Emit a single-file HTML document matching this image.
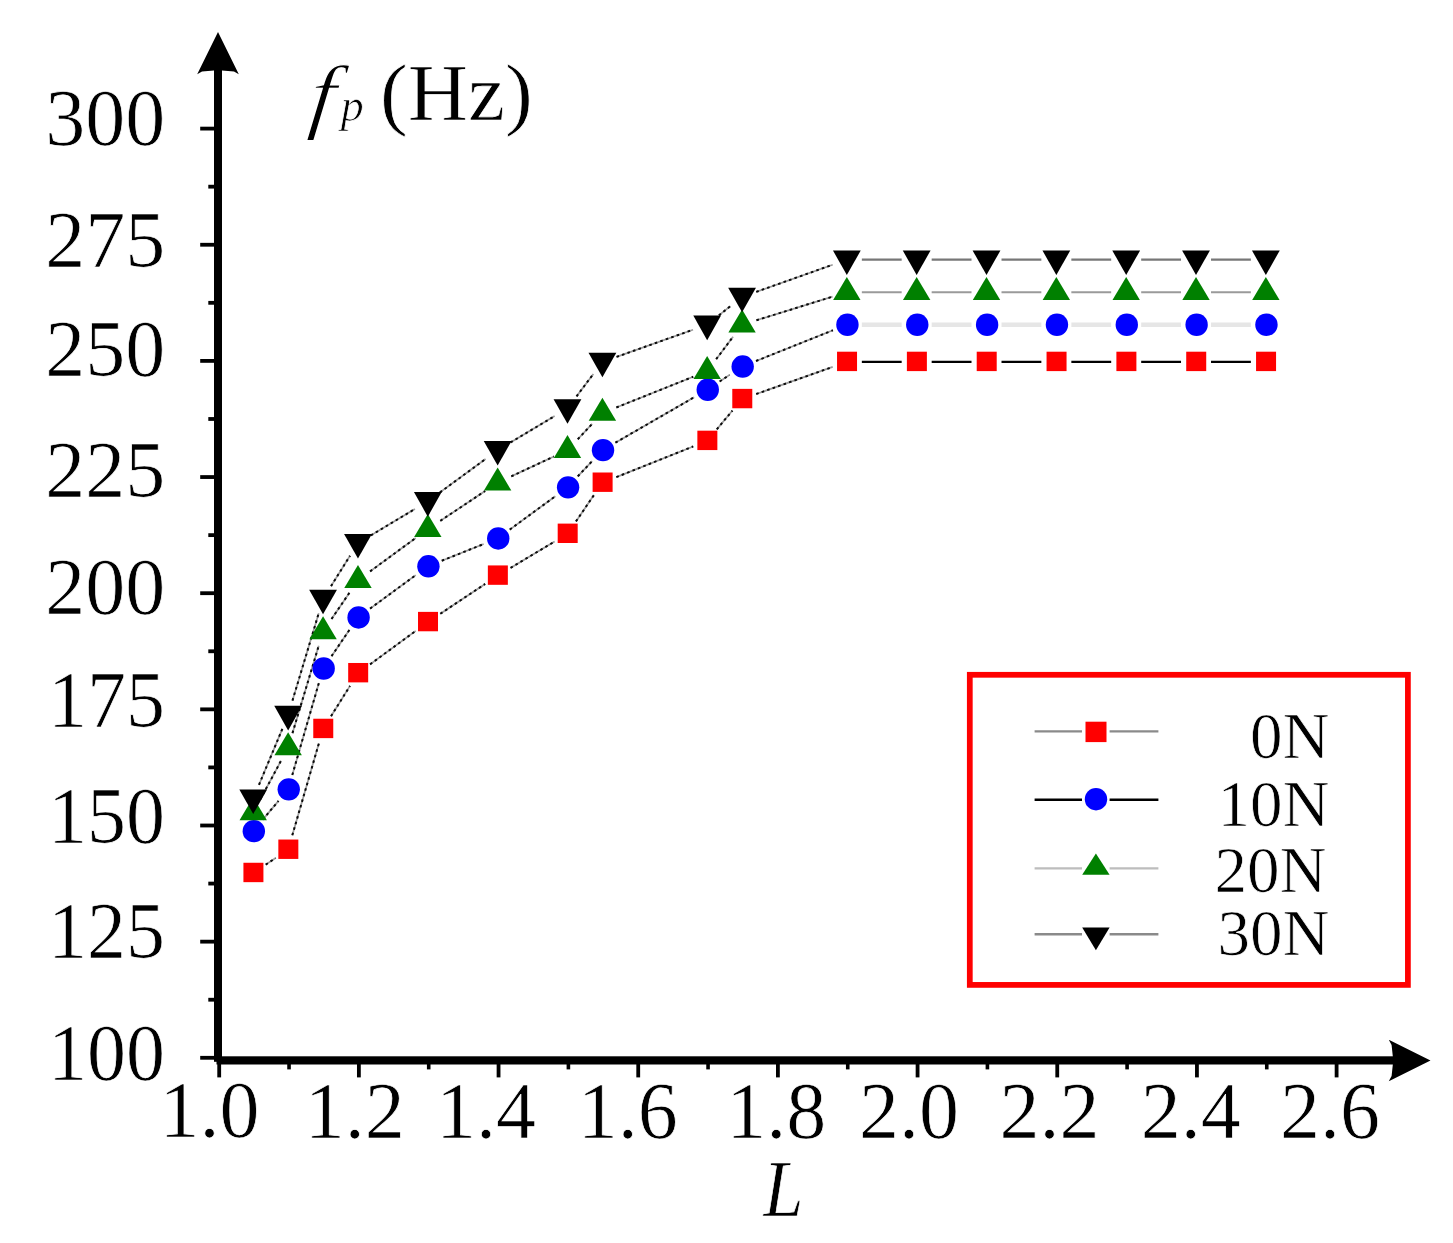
<!DOCTYPE html>
<html lang="en"><head><meta charset="utf-8"><title>fp vs L</title>
<style>html,body{margin:0;padding:0;background:#fff}body{width:1453px;height:1243px;overflow:hidden}svg{display:block}text{font-family:"Liberation Serif","DejaVu Serif",serif;fill:#000;stroke:#fff;stroke-width:0.7px}</style></head><body>
<svg width="1453" height="1243" viewBox="0 0 1453 1243">
<rect x="0" y="0" width="1453" height="1243" fill="#fff"/>
<g id="lines">
<line x1="265.71" y1="864.65" x2="275.65" y2="858.04" stroke="#9c9c9c" stroke-width="1.7"/>
<line x1="265.71" y1="864.65" x2="275.65" y2="858.04" stroke="#0a0a0a" stroke-width="2" stroke-dasharray="2.6 3.2"/>
<line x1="292.3" y1="835.32" x2="318.89" y2="743.34" stroke="#9c9c9c" stroke-width="1.7"/>
<line x1="292.3" y1="835.32" x2="318.89" y2="743.34" stroke="#0a0a0a" stroke-width="2" stroke-dasharray="2.6 3.2"/>
<line x1="331.02" y1="716.22" x2="350.01" y2="685.89" stroke="#9c9c9c" stroke-width="1.7"/>
<line x1="331.02" y1="716.22" x2="350.01" y2="685.89" stroke="#0a0a0a" stroke-width="2" stroke-dasharray="2.6 3.2"/>
<line x1="370.08" y1="664.32" x2="415.71" y2="630.93" stroke="#9c9c9c" stroke-width="1.7"/>
<line x1="370.08" y1="664.32" x2="415.71" y2="630.93" stroke="#0a0a0a" stroke-width="2" stroke-dasharray="2.6 3.2"/>
<line x1="440.3" y1="613.77" x2="485.16" y2="583.92" stroke="#9c9c9c" stroke-width="1.7"/>
<line x1="440.3" y1="613.77" x2="485.16" y2="583.92" stroke="#0a0a0a" stroke-width="2" stroke-dasharray="2.6 3.2"/>
<line x1="510.52" y1="567.91" x2="554.62" y2="541.51" stroke="#9c9c9c" stroke-width="1.7"/>
<line x1="510.52" y1="567.91" x2="554.62" y2="541.51" stroke="#0a0a0a" stroke-width="2" stroke-dasharray="2.6 3.2"/>
<line x1="575.95" y1="521.42" x2="593.94" y2="495.08" stroke="#9c9c9c" stroke-width="1.7"/>
<line x1="575.95" y1="521.42" x2="593.94" y2="495.08" stroke="#0a0a0a" stroke-width="2" stroke-dasharray="2.6 3.2"/>
<line x1="616.34" y1="477.14" x2="693.23" y2="446.44" stroke="#9c9c9c" stroke-width="1.7"/>
<line x1="616.34" y1="477.14" x2="693.23" y2="446.44" stroke="#0a0a0a" stroke-width="2" stroke-dasharray="2.6 3.2"/>
<line x1="716.78" y1="429.37" x2="732.47" y2="410.58" stroke="#9c9c9c" stroke-width="1.7"/>
<line x1="716.78" y1="429.37" x2="732.47" y2="410.58" stroke="#0a0a0a" stroke-width="2" stroke-dasharray="2.6 3.2"/>
<line x1="756.22" y1="394.05" x2="832.7" y2="366.92" stroke="#9c9c9c" stroke-width="1.7"/>
<line x1="756.22" y1="394.05" x2="832.7" y2="366.92" stroke="#0a0a0a" stroke-width="2" stroke-dasharray="2.6 3.2"/>
<line x1="861.84" y1="361.9" x2="901.67" y2="361.9" stroke="#000" stroke-width="2.4"/>
<line x1="931.67" y1="361.9" x2="971.51" y2="361.9" stroke="#000" stroke-width="2.4"/>
<line x1="1001.51" y1="361.9" x2="1041.35" y2="361.9" stroke="#000" stroke-width="2.4"/>
<line x1="1071.35" y1="361.9" x2="1111.19" y2="361.9" stroke="#000" stroke-width="2.4"/>
<line x1="1141.19" y1="361.9" x2="1181.02" y2="361.9" stroke="#000" stroke-width="2.4"/>
<line x1="1211.02" y1="361.9" x2="1250.86" y2="361.9" stroke="#000" stroke-width="2.4"/>
<line x1="262.83" y1="819.63" x2="278.52" y2="800.85" stroke="#9c9c9c" stroke-width="1.7"/>
<line x1="262.83" y1="819.63" x2="278.52" y2="800.85" stroke="#0a0a0a" stroke-width="2" stroke-dasharray="2.6 3.2"/>
<line x1="292.3" y1="774.92" x2="318.89" y2="682.95" stroke="#9c9c9c" stroke-width="1.7"/>
<line x1="292.3" y1="774.92" x2="318.89" y2="682.95" stroke="#0a0a0a" stroke-width="2" stroke-dasharray="2.6 3.2"/>
<line x1="331.52" y1="656.15" x2="349.51" y2="629.82" stroke="#9c9c9c" stroke-width="1.7"/>
<line x1="331.52" y1="656.15" x2="349.51" y2="629.82" stroke="#0a0a0a" stroke-width="2" stroke-dasharray="2.6 3.2"/>
<line x1="370.08" y1="608.57" x2="415.71" y2="575.18" stroke="#9c9c9c" stroke-width="1.7"/>
<line x1="370.08" y1="608.57" x2="415.71" y2="575.18" stroke="#0a0a0a" stroke-width="2" stroke-dasharray="2.6 3.2"/>
<line x1="441.74" y1="560.76" x2="483.72" y2="544.01" stroke="#9c9c9c" stroke-width="1.7"/>
<line x1="441.74" y1="560.76" x2="483.72" y2="544.01" stroke="#0a0a0a" stroke-width="2" stroke-dasharray="2.6 3.2"/>
<line x1="509.76" y1="529.59" x2="555.38" y2="496.2" stroke="#9c9c9c" stroke-width="1.7"/>
<line x1="509.76" y1="529.59" x2="555.38" y2="496.2" stroke="#0a0a0a" stroke-width="2" stroke-dasharray="2.6 3.2"/>
<line x1="577.76" y1="476.41" x2="592.14" y2="461.11" stroke="#9c9c9c" stroke-width="1.7"/>
<line x1="577.76" y1="476.41" x2="592.14" y2="461.11" stroke="#0a0a0a" stroke-width="2" stroke-dasharray="2.6 3.2"/>
<line x1="615.4" y1="442.68" x2="694.17" y2="397.27" stroke="#9c9c9c" stroke-width="1.7"/>
<line x1="615.4" y1="442.68" x2="694.17" y2="397.27" stroke="#0a0a0a" stroke-width="2" stroke-dasharray="2.6 3.2"/>
<line x1="719.65" y1="381.47" x2="729.59" y2="374.85" stroke="#9c9c9c" stroke-width="1.7"/>
<line x1="719.65" y1="381.47" x2="729.59" y2="374.85" stroke="#0a0a0a" stroke-width="2" stroke-dasharray="2.6 3.2"/>
<line x1="756.01" y1="360.99" x2="832.91" y2="330.29" stroke="#9c9c9c" stroke-width="1.7"/>
<line x1="756.01" y1="360.99" x2="832.91" y2="330.29" stroke="#0a0a0a" stroke-width="2" stroke-dasharray="2.6 3.2"/>
<line x1="861.84" y1="324.73" x2="901.67" y2="324.73" stroke="#e6e6e6" stroke-width="4.5"/>
<line x1="931.67" y1="324.73" x2="971.51" y2="324.73" stroke="#e6e6e6" stroke-width="4.5"/>
<line x1="1001.51" y1="324.73" x2="1041.35" y2="324.73" stroke="#e6e6e6" stroke-width="4.5"/>
<line x1="1071.35" y1="324.73" x2="1111.19" y2="324.73" stroke="#e6e6e6" stroke-width="4.5"/>
<line x1="1141.19" y1="324.73" x2="1181.02" y2="324.73" stroke="#e6e6e6" stroke-width="4.5"/>
<line x1="1211.02" y1="324.73" x2="1250.86" y2="324.73" stroke="#e6e6e6" stroke-width="4.5"/>
<line x1="260.31" y1="799.35" x2="281.04" y2="760.73" stroke="#9c9c9c" stroke-width="1.7"/>
<line x1="260.31" y1="799.35" x2="281.04" y2="760.73" stroke="#0a0a0a" stroke-width="2" stroke-dasharray="2.6 3.2"/>
<line x1="292.46" y1="733.15" x2="318.74" y2="645.73" stroke="#9c9c9c" stroke-width="1.7"/>
<line x1="292.46" y1="733.15" x2="318.74" y2="645.73" stroke="#0a0a0a" stroke-width="2" stroke-dasharray="2.6 3.2"/>
<line x1="331.52" y1="618.98" x2="349.51" y2="592.65" stroke="#9c9c9c" stroke-width="1.7"/>
<line x1="331.52" y1="618.98" x2="349.51" y2="592.65" stroke="#0a0a0a" stroke-width="2" stroke-dasharray="2.6 3.2"/>
<line x1="370.08" y1="571.4" x2="415.71" y2="538.01" stroke="#9c9c9c" stroke-width="1.7"/>
<line x1="370.08" y1="571.4" x2="415.71" y2="538.01" stroke="#0a0a0a" stroke-width="2" stroke-dasharray="2.6 3.2"/>
<line x1="440.3" y1="520.85" x2="485.16" y2="491" stroke="#9c9c9c" stroke-width="1.7"/>
<line x1="440.3" y1="520.85" x2="485.16" y2="491" stroke="#0a0a0a" stroke-width="2" stroke-dasharray="2.6 3.2"/>
<line x1="511.25" y1="476.36" x2="553.89" y2="456.51" stroke="#9c9c9c" stroke-width="1.7"/>
<line x1="511.25" y1="476.36" x2="553.89" y2="456.51" stroke="#0a0a0a" stroke-width="2" stroke-dasharray="2.6 3.2"/>
<line x1="577.76" y1="439.24" x2="592.14" y2="423.94" stroke="#9c9c9c" stroke-width="1.7"/>
<line x1="577.76" y1="439.24" x2="592.14" y2="423.94" stroke="#0a0a0a" stroke-width="2" stroke-dasharray="2.6 3.2"/>
<line x1="616.34" y1="407.45" x2="693.23" y2="376.75" stroke="#9c9c9c" stroke-width="1.7"/>
<line x1="616.34" y1="407.45" x2="693.23" y2="376.75" stroke="#0a0a0a" stroke-width="2" stroke-dasharray="2.6 3.2"/>
<line x1="716.17" y1="359.2" x2="733.07" y2="336.72" stroke="#9c9c9c" stroke-width="1.7"/>
<line x1="716.17" y1="359.2" x2="733.07" y2="336.72" stroke="#0a0a0a" stroke-width="2" stroke-dasharray="2.6 3.2"/>
<line x1="756.41" y1="320.28" x2="832.51" y2="296.66" stroke="#9c9c9c" stroke-width="1.7"/>
<line x1="756.41" y1="320.28" x2="832.51" y2="296.66" stroke="#0a0a0a" stroke-width="2" stroke-dasharray="2.6 3.2"/>
<line x1="861.84" y1="292.21" x2="901.67" y2="292.21" stroke="#9a9a9a" stroke-width="2"/>
<line x1="931.67" y1="292.21" x2="971.51" y2="292.21" stroke="#9a9a9a" stroke-width="2"/>
<line x1="1001.51" y1="292.21" x2="1041.35" y2="292.21" stroke="#9a9a9a" stroke-width="2"/>
<line x1="1071.35" y1="292.21" x2="1111.19" y2="292.21" stroke="#9a9a9a" stroke-width="2"/>
<line x1="1141.19" y1="292.21" x2="1181.02" y2="292.21" stroke="#9a9a9a" stroke-width="2"/>
<line x1="1211.02" y1="292.21" x2="1250.86" y2="292.21" stroke="#9a9a9a" stroke-width="2"/>
<line x1="259" y1="784.78" x2="282.36" y2="728.84" stroke="#9c9c9c" stroke-width="1.7"/>
<line x1="259" y1="784.78" x2="282.36" y2="728.84" stroke="#0a0a0a" stroke-width="2" stroke-dasharray="2.6 3.2"/>
<line x1="292.46" y1="700.63" x2="318.74" y2="613.21" stroke="#9c9c9c" stroke-width="1.7"/>
<line x1="292.46" y1="700.63" x2="318.74" y2="613.21" stroke="#0a0a0a" stroke-width="2" stroke-dasharray="2.6 3.2"/>
<line x1="331.02" y1="586.13" x2="350.01" y2="555.81" stroke="#9c9c9c" stroke-width="1.7"/>
<line x1="331.02" y1="586.13" x2="350.01" y2="555.81" stroke="#0a0a0a" stroke-width="2" stroke-dasharray="2.6 3.2"/>
<line x1="370.84" y1="535.39" x2="414.94" y2="508.99" stroke="#9c9c9c" stroke-width="1.7"/>
<line x1="370.84" y1="535.39" x2="414.94" y2="508.99" stroke="#0a0a0a" stroke-width="2" stroke-dasharray="2.6 3.2"/>
<line x1="439.92" y1="492.42" x2="485.54" y2="459.03" stroke="#9c9c9c" stroke-width="1.7"/>
<line x1="439.92" y1="492.42" x2="485.54" y2="459.03" stroke="#0a0a0a" stroke-width="2" stroke-dasharray="2.6 3.2"/>
<line x1="510.52" y1="442.47" x2="554.62" y2="416.07" stroke="#9c9c9c" stroke-width="1.7"/>
<line x1="510.52" y1="442.47" x2="554.62" y2="416.07" stroke="#0a0a0a" stroke-width="2" stroke-dasharray="2.6 3.2"/>
<line x1="576.5" y1="396.37" x2="593.39" y2="373.89" stroke="#9c9c9c" stroke-width="1.7"/>
<line x1="576.5" y1="396.37" x2="593.39" y2="373.89" stroke="#0a0a0a" stroke-width="2" stroke-dasharray="2.6 3.2"/>
<line x1="616.54" y1="356.88" x2="693.03" y2="329.75" stroke="#9c9c9c" stroke-width="1.7"/>
<line x1="616.54" y1="356.88" x2="693.03" y2="329.75" stroke="#0a0a0a" stroke-width="2" stroke-dasharray="2.6 3.2"/>
<line x1="718.89" y1="315.37" x2="730.36" y2="306.21" stroke="#9c9c9c" stroke-width="1.7"/>
<line x1="718.89" y1="315.37" x2="730.36" y2="306.21" stroke="#0a0a0a" stroke-width="2" stroke-dasharray="2.6 3.2"/>
<line x1="756.22" y1="291.84" x2="832.7" y2="264.7" stroke="#9c9c9c" stroke-width="1.7"/>
<line x1="756.22" y1="291.84" x2="832.7" y2="264.7" stroke="#0a0a0a" stroke-width="2" stroke-dasharray="2.6 3.2"/>
<line x1="861.84" y1="259.69" x2="901.67" y2="259.69" stroke="#777" stroke-width="2.2"/>
<line x1="931.67" y1="259.69" x2="971.51" y2="259.69" stroke="#777" stroke-width="2.2"/>
<line x1="1001.51" y1="259.69" x2="1041.35" y2="259.69" stroke="#777" stroke-width="2.2"/>
<line x1="1071.35" y1="259.69" x2="1111.19" y2="259.69" stroke="#777" stroke-width="2.2"/>
<line x1="1141.19" y1="259.69" x2="1181.02" y2="259.69" stroke="#777" stroke-width="2.2"/>
<line x1="1211.02" y1="259.69" x2="1250.86" y2="259.69" stroke="#777" stroke-width="2.2"/>
</g>
<g id="markers">
<rect x="243.42" y="862.76" width="20" height="19.4" fill="#ff0000"/>
<rect x="278.34" y="839.53" width="20" height="19.4" fill="#ff0000"/>
<rect x="313.26" y="718.73" width="20" height="19.4" fill="#ff0000"/>
<rect x="348.18" y="662.98" width="20" height="19.4" fill="#ff0000"/>
<rect x="418.01" y="611.88" width="20" height="19.4" fill="#ff0000"/>
<rect x="487.85" y="565.42" width="20" height="19.4" fill="#ff0000"/>
<rect x="557.69" y="523.6" width="20" height="19.4" fill="#ff0000"/>
<rect x="592.61" y="472.5" width="20" height="19.4" fill="#ff0000"/>
<rect x="697.36" y="430.68" width="20" height="19.4" fill="#ff0000"/>
<rect x="732.28" y="388.87" width="20" height="19.4" fill="#ff0000"/>
<rect x="837.04" y="351.7" width="20" height="19.4" fill="#ff0000"/>
<rect x="906.88" y="351.7" width="20" height="19.4" fill="#ff0000"/>
<rect x="976.71" y="351.7" width="20" height="19.4" fill="#ff0000"/>
<rect x="1046.55" y="351.7" width="20" height="19.4" fill="#ff0000"/>
<rect x="1116.39" y="351.7" width="20" height="19.4" fill="#ff0000"/>
<rect x="1186.22" y="351.7" width="20" height="19.4" fill="#ff0000"/>
<rect x="1256.06" y="351.7" width="20" height="19.4" fill="#ff0000"/>
<circle cx="253.82" cy="831.15" r="11.2" fill="#0000ff"/>
<circle cx="288.74" cy="789.33" r="11.2" fill="#0000ff"/>
<circle cx="323.66" cy="668.54" r="11.2" fill="#0000ff"/>
<circle cx="358.58" cy="617.43" r="11.2" fill="#0000ff"/>
<circle cx="428.41" cy="566.32" r="11.2" fill="#0000ff"/>
<circle cx="498.25" cy="538.45" r="11.2" fill="#0000ff"/>
<circle cx="568.09" cy="487.34" r="11.2" fill="#0000ff"/>
<circle cx="603.01" cy="450.17" r="11.2" fill="#0000ff"/>
<circle cx="707.76" cy="389.78" r="11.2" fill="#0000ff"/>
<circle cx="742.68" cy="366.55" r="11.2" fill="#0000ff"/>
<circle cx="847.44" cy="324.73" r="11.2" fill="#0000ff"/>
<circle cx="917.27" cy="324.73" r="11.2" fill="#0000ff"/>
<circle cx="987.11" cy="324.73" r="11.2" fill="#0000ff"/>
<circle cx="1056.95" cy="324.73" r="11.2" fill="#0000ff"/>
<circle cx="1126.79" cy="324.73" r="11.2" fill="#0000ff"/>
<circle cx="1196.62" cy="324.73" r="11.2" fill="#0000ff"/>
<circle cx="1266.46" cy="324.73" r="11.2" fill="#0000ff"/>
<polygon points="253.22,797.36 266.92,820.36 239.52,820.36" fill="#008000"/>
<polygon points="288.14,732.32 301.84,755.32 274.44,755.32" fill="#008000"/>
<polygon points="323.06,616.17 336.76,639.17 309.36,639.17" fill="#008000"/>
<polygon points="357.98,565.06 371.68,588.06 344.28,588.06" fill="#008000"/>
<polygon points="427.81,513.96 441.51,536.96 414.11,536.96" fill="#008000"/>
<polygon points="497.65,467.5 511.35,490.5 483.95,490.5" fill="#008000"/>
<polygon points="567.49,434.97 581.19,457.97 553.79,457.97" fill="#008000"/>
<polygon points="602.41,397.81 616.11,420.81 588.71,420.81" fill="#008000"/>
<polygon points="707.16,355.99 720.86,378.99 693.46,378.99" fill="#008000"/>
<polygon points="742.08,309.53 755.78,332.53 728.38,332.53" fill="#008000"/>
<polygon points="846.84,277.01 860.54,300.01 833.14,300.01" fill="#008000"/>
<polygon points="916.67,277.01 930.38,300.01 902.97,300.01" fill="#008000"/>
<polygon points="986.51,277.01 1000.21,300.01 972.81,300.01" fill="#008000"/>
<polygon points="1056.35,277.01 1070.05,300.01 1042.65,300.01" fill="#008000"/>
<polygon points="1126.19,277.01 1139.89,300.01 1112.49,300.01" fill="#008000"/>
<polygon points="1196.02,277.01 1209.72,300.01 1182.32,300.01" fill="#008000"/>
<polygon points="1265.86,277.01 1279.56,300.01 1252.16,300.01" fill="#008000"/>
<polygon points="253.22,814.02 267.12,789.42 239.32,789.42" fill="#000"/>
<polygon points="288.14,730.4 302.04,705.8 274.24,705.8" fill="#000"/>
<polygon points="323.06,614.25 336.96,589.65 309.16,589.65" fill="#000"/>
<polygon points="357.98,558.49 371.88,533.89 344.08,533.89" fill="#000"/>
<polygon points="427.81,516.68 441.71,492.08 413.91,492.08" fill="#000"/>
<polygon points="497.65,465.57 511.55,440.97 483.75,440.97" fill="#000"/>
<polygon points="567.49,423.76 581.39,399.16 553.59,399.16" fill="#000"/>
<polygon points="602.41,377.3 616.31,352.7 588.51,352.7" fill="#000"/>
<polygon points="707.16,340.13 721.06,315.53 693.26,315.53" fill="#000"/>
<polygon points="742.08,312.26 755.98,287.66 728.18,287.66" fill="#000"/>
<polygon points="846.84,275.09 860.74,250.49 832.94,250.49" fill="#000"/>
<polygon points="916.67,275.09 930.57,250.49 902.77,250.49" fill="#000"/>
<polygon points="986.51,275.09 1000.41,250.49 972.61,250.49" fill="#000"/>
<polygon points="1056.35,275.09 1070.25,250.49 1042.45,250.49" fill="#000"/>
<polygon points="1126.19,275.09 1140.09,250.49 1112.29,250.49" fill="#000"/>
<polygon points="1196.02,275.09 1209.92,250.49 1182.12,250.49" fill="#000"/>
<polygon points="1265.86,275.09 1279.76,250.49 1251.96,250.49" fill="#000"/>
</g>
<g id="axes" fill="#000">
<rect x="214" y="68" width="8" height="993.8"/>
<rect x="216.5" y="1056.3" width="1179.5" height="8.2"/>
<polygon points="218,32 238.8,74.2 234,71.6 222,70.4 214,70.4 202,71.6 197.2,74.2"/>
<polygon points="1430.5,1060.5 1388.8,1039.8 1391.6,1045 1392.8,1056.3 1392.8,1064.7 1391.6,1076 1388.8,1081.2"/>
<rect x="200.2" y="1055.9" width="15" height="3.8"/>
<rect x="208.3" y="997.82" width="7" height="3.8"/>
<rect x="200.2" y="939.75" width="15" height="3.8"/>
<rect x="208.3" y="881.67" width="7" height="3.8"/>
<rect x="200.2" y="823.6" width="15" height="3.8"/>
<rect x="208.3" y="765.52" width="7" height="3.8"/>
<rect x="200.2" y="707.45" width="15" height="3.8"/>
<rect x="208.3" y="649.38" width="7" height="3.8"/>
<rect x="200.2" y="591.3" width="15" height="3.8"/>
<rect x="208.3" y="533.23" width="7" height="3.8"/>
<rect x="200.2" y="475.15" width="15" height="3.8"/>
<rect x="208.3" y="417.08" width="7" height="3.8"/>
<rect x="200.2" y="359" width="15" height="3.8"/>
<rect x="208.3" y="300.92" width="7" height="3.8"/>
<rect x="200.2" y="242.85" width="15" height="3.8"/>
<rect x="208.3" y="184.77" width="7" height="3.8"/>
<rect x="200.2" y="126.7" width="15" height="3.8"/>
<rect x="217.3" y="1064" width="3.8" height="13.4"/>
<rect x="287.24" y="1064" width="3.6" height="5.4"/>
<rect x="356.98" y="1064" width="3.8" height="13.4"/>
<rect x="426.91" y="1064" width="3.6" height="5.4"/>
<rect x="496.65" y="1064" width="3.8" height="13.4"/>
<rect x="566.59" y="1064" width="3.6" height="5.4"/>
<rect x="636.33" y="1064" width="3.8" height="13.4"/>
<rect x="706.26" y="1064" width="3.6" height="5.4"/>
<rect x="776" y="1064" width="3.8" height="13.4"/>
<rect x="845.94" y="1064" width="3.6" height="5.4"/>
<rect x="915.67" y="1064" width="3.8" height="13.4"/>
<rect x="985.61" y="1064" width="3.6" height="5.4"/>
<rect x="1055.35" y="1064" width="3.8" height="13.4"/>
<rect x="1125.29" y="1064" width="3.6" height="5.4"/>
<rect x="1195.03" y="1064" width="3.8" height="13.4"/>
<rect x="1264.96" y="1064" width="3.6" height="5.4"/>
<rect x="1334.7" y="1064" width="3.8" height="13.4"/>
</g>
<g id="ylabels" font-size="80" text-anchor="end">
<text x="165.3" y="144.8">300</text>
<text x="165.3" y="266.5">275</text>
<text x="165.3" y="376">250</text>
<text x="165.3" y="496.5">225</text>
<text x="165.3" y="613.8">200</text>
<text x="165" y="727.3" textLength="117" lengthAdjust="spacingAndGlyphs">175</text>
<text x="165" y="842.9" textLength="117" lengthAdjust="spacingAndGlyphs">150</text>
<text x="165" y="957.6" textLength="117" lengthAdjust="spacingAndGlyphs">125</text>
<text x="165" y="1080" textLength="117" lengthAdjust="spacingAndGlyphs">100</text>
</g>
<g id="xlabels" font-size="80" text-anchor="middle">
<text x="209.5" y="1137">1.0</text>
<text x="354.8" y="1138.3">1.2</text>
<text x="486" y="1138.3">1.4</text>
<text x="627.7" y="1138.3">1.6</text>
<text x="776.2" y="1138.3">1.8</text>
<text x="909.1" y="1138.3">2.0</text>
<text x="1049.4" y="1138.3">2.2</text>
<text x="1190.8" y="1138.3">2.4</text>
<text x="1330" y="1138.3">2.6</text>
</g>
<text x="783.5" y="1215.5" font-size="80" font-style="italic" text-anchor="middle" textLength="40" lengthAdjust="spacingAndGlyphs">L</text>
<text transform="translate(307.3,122.5) skewX(-6) scale(1.12,1)" x="0" y="0" font-size="83" font-style="italic" style="stroke-width:1.3px">f</text>
<text x="340.7" y="121.4" font-size="46" font-style="italic">p</text>
<text x="380" y="119.5" font-size="80" textLength="152.8" lengthAdjust="spacingAndGlyphs">(Hz)</text>
<g id="legend">
<rect x="969.8" y="674.8" width="438.1" height="310.1" fill="#fff" stroke="#ff0000" stroke-width="5.75"/>
<line x1="1034.6" y1="731.4" x2="1082" y2="731.4" stroke="#8a8a8a" stroke-width="2.4"/>
<line x1="1109.6" y1="731.4" x2="1158.4" y2="731.4" stroke="#8a8a8a" stroke-width="2.4"/>
<line x1="1034.6" y1="799.7" x2="1082" y2="799.7" stroke="#000" stroke-width="2.6"/>
<line x1="1109.6" y1="799.7" x2="1158.4" y2="799.7" stroke="#000" stroke-width="2.6"/>
<line x1="1034.6" y1="868.3" x2="1082" y2="868.3" stroke="#bdbdbd" stroke-width="2.2"/>
<line x1="1109.6" y1="868.3" x2="1158.4" y2="868.3" stroke="#bdbdbd" stroke-width="2.2"/>
<line x1="1034.6" y1="934.3" x2="1082" y2="934.3" stroke="#8a8a8a" stroke-width="2.4"/>
<line x1="1109.6" y1="934.3" x2="1158.4" y2="934.3" stroke="#8a8a8a" stroke-width="2.4"/>
<rect x="1085.5" y="721.7" width="21" height="20.4" fill="#ff0000"/>
<circle cx="1096" cy="799.2" r="11.2" fill="#0000ff"/>
<polygon points="1095.9,853.6 1109.6,874.8 1082.2,874.8" fill="#008000"/>
<polygon points="1095.9,950.2 1109.6,927.5 1082.2,927.5" fill="#000"/>
<g font-size="65" text-anchor="end">
<text x="1329.5" y="758">0N</text>
<text x="1329.5" y="825.6">10N</text>
<text x="1326.5" y="892">20N</text>
<text x="1329.5" y="955.2">30N</text>
</g></g>
</svg></body></html>
